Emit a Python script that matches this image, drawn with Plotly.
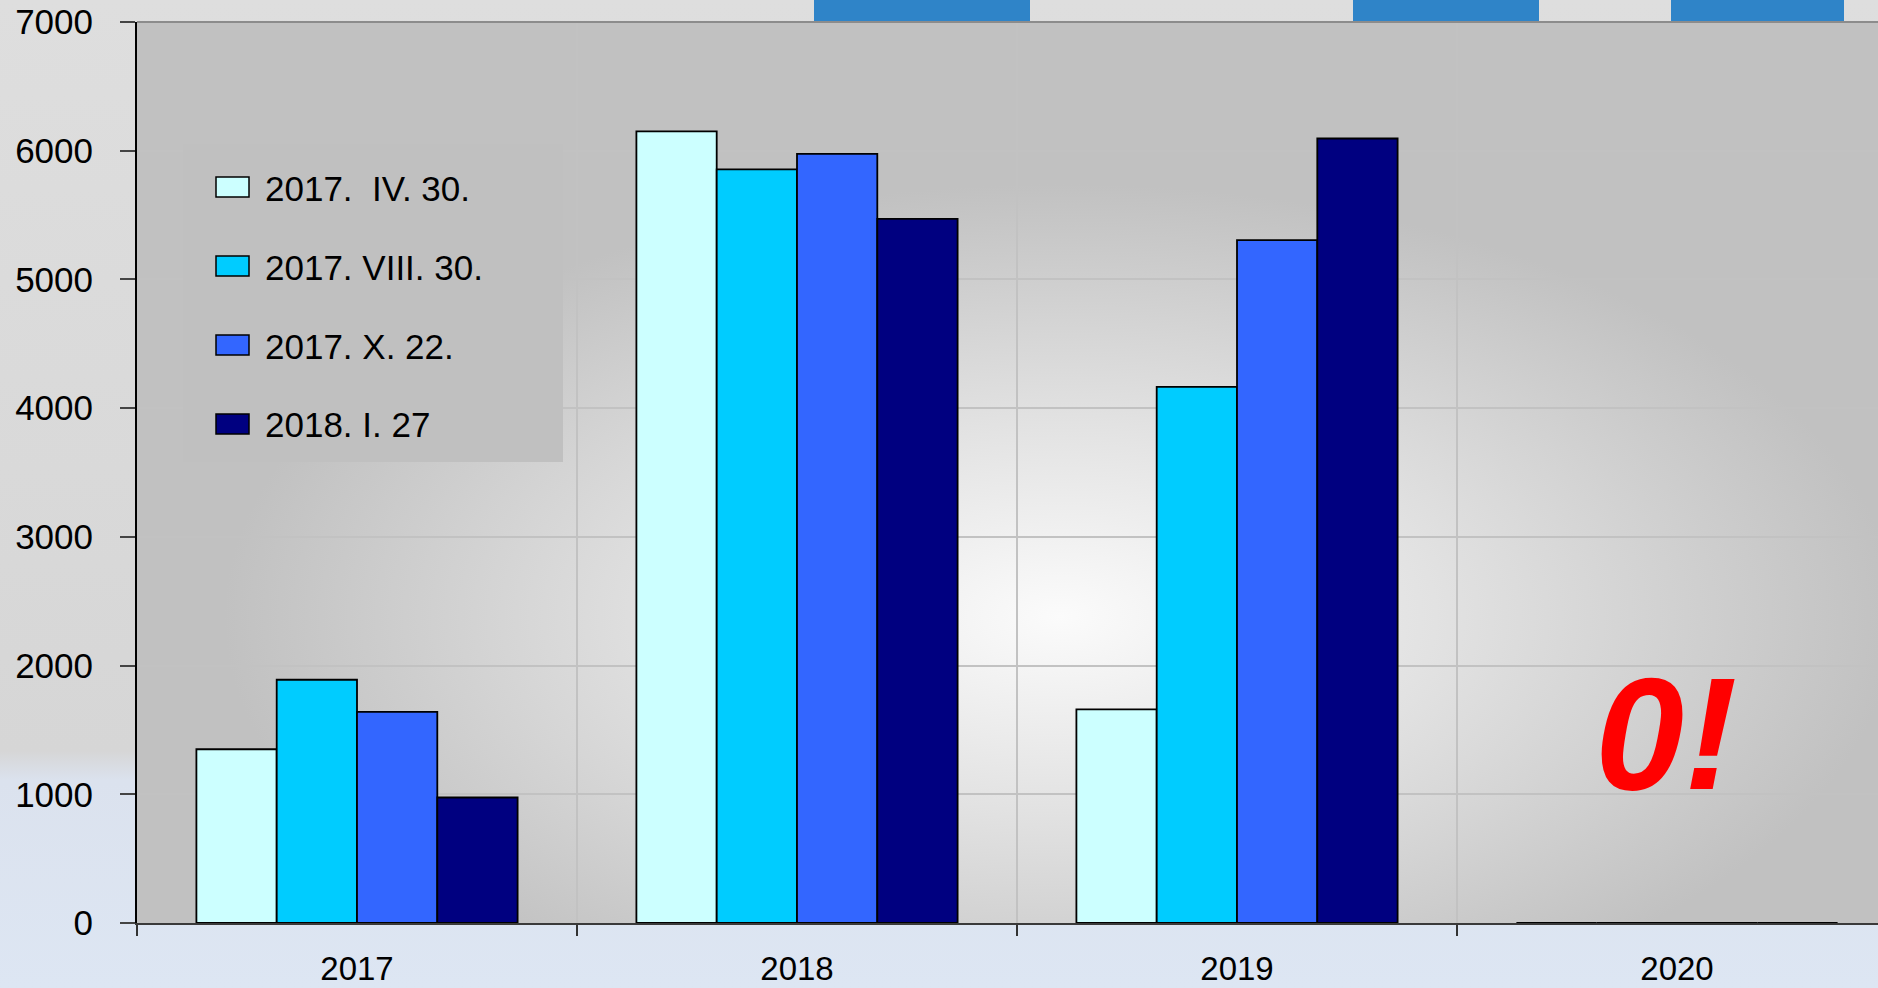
import base64
import plotly.graph_objects as go

# ---------------- data ----------------
years = ["2017", "2018", "2019", "2020"]
series_names = ["2017.\u00a0 IV. 30.", "2017. VIII. 30.", "2017. X. 22.", "2018. I. 27"]
s_2017_apr30 = [1350, 6150, 1660, 0]
s_2017_aug30 = [1890, 5855, 4165, 0]
s_2017_oct22 = [1640, 5975, 5305, 0]
s_2018_jan27 = [975, 5470, 6095, 0]
series_colors = ["#CCFFFF", "#00CCFF", "#3366FF", "#000080"]
y_tick_values = [0, 1000, 2000, 3000, 4000, 5000, 6000, 7000]
note_text = "0!"

series_values = [s_2017_apr30, s_2017_aug30, s_2017_oct22, s_2018_jan27]

# ---------------- geometry (pixels) ----------------
W, H = 1878, 988
ML, MR, MT, MB = 137, 0, 22, 65
PW, PH = W - ML - MR, H - MT - MB
FONT = "Liberation Sans, Arial, sans-serif"


def px_x(x):
    return (x - ML) / PW


def px_y(y):
    return (H - MB - y) / PH


def svg_uri(svg):
    return "data:image/svg+xml;base64," + base64.b64encode(svg.encode()).decode()


paper_svg = (
    '<svg xmlns="http://www.w3.org/2000/svg" width="100" height="100" viewBox="0 0 100 100" '
    'preserveAspectRatio="none"><defs><linearGradient id="g" x1="0" y1="0" x2="0" y2="1">'
    '<stop offset="0" stop-color="#dedede"/><stop offset="0.76" stop-color="#d6d6d6"/>'
    '<stop offset="0.79" stop-color="#dbe2ee"/><stop offset="1" stop-color="#dde6f3"/>'
    '</linearGradient></defs><rect width="100" height="100" fill="url(#g)"/></svg>'
)
plot_svg = (
    '<svg xmlns="http://www.w3.org/2000/svg" width="100" height="100" viewBox="0 0 100 100" '
    'preserveAspectRatio="none"><defs><radialGradient id="r" cx="0.53" cy="0.66" r="0.48">'
    '<stop offset="0" stop-color="#fbfbfb"/><stop offset="0.45" stop-color="#e2e2e2"/>'
    '<stop offset="1" stop-color="#c1c1c1"/></radialGradient></defs>'
    '<rect width="100" height="100" fill="url(#r)"/></svg>'
)

fig = go.Figure()
for name, vals, col in zip(series_names, series_values, series_colors):
    fig.add_trace(
        go.Bar(
            x=years,
            y=vals,
            name=name,
            marker=dict(color=col, line=dict(color="#000000", width=1.8)),
            showlegend=False,
        )
    )

shapes = []
# blue background patches in the top strip
for x0, x1 in [(814, 1030), (1353, 1539), (1671, 1844)]:
    shapes.append(dict(type="rect", xref="paper", yref="paper", x0=px_x(x0), x1=px_x(x1),
                       y0=px_y(22), y1=px_y(0), fillcolor="#2f84c8", line=dict(width=0),
                       layer="below"))
# top border
shapes.append(dict(type="line", xref="paper", yref="paper", x0=0, x1=1, y0=1, y1=1,
                   line=dict(color="#8c8c8c", width=2)))
# legend box
shapes.append(dict(type="rect", xref="paper", yref="paper", x0=px_x(183), x1=px_x(563),
                   y0=px_y(462), y1=px_y(144), fillcolor="#c0c0c0", line=dict(width=0)))
annotations = []
item_y = [187, 266, 345, 424]
for name, col, yc in zip(series_names, series_colors, item_y):
    shapes.append(dict(type="rect", xref="paper", yref="paper", x0=px_x(216), x1=px_x(249),
                       y0=px_y(yc + 10), y1=px_y(yc - 10), fillcolor=col,
                       line=dict(color="#000000", width=1.5)))
    annotations.append(dict(xref="paper", yref="paper", x=px_x(263), y=px_y(yc + 1), text=name,
                            showarrow=False, xanchor="left", yanchor="middle",
                            font=dict(family=FONT, size=35, color="#000000")))

annotations.append(dict(xref="paper", yref="paper", x=px_x(1666), y=px_y(733), text=note_text,
                        showarrow=False, xanchor="center", yanchor="middle",
                        font=dict(family=FONT, size=160, color="#ff0000", weight="bold",
                                  style="italic")))

fig.update_layout(
    width=W,
    height=H,
    margin=dict(l=ML, r=MR, t=MT, b=MB, pad=0, autoexpand=False),
    paper_bgcolor="#d9dde4",
    plot_bgcolor="rgba(0,0,0,0)",
    barmode="group",
    bargap=0.27,
    bargroupgap=0,
    showlegend=False,
    shapes=shapes,
    annotations=annotations,
    images=[
        dict(source=svg_uri(paper_svg), xref="paper", yref="paper", x=-ML / PW, y=1 + MT / PH,
             sizex=W / PW, sizey=H / PH, sizing="stretch", layer="below", xanchor="left",
             yanchor="top"),
        dict(source=svg_uri(plot_svg), xref="paper", yref="paper", x=0, y=1, sizex=1, sizey=1,
             sizing="stretch", layer="below", xanchor="left", yanchor="top"),
    ],
    xaxis=dict(
        type="category",
        categoryorder="array",
        categoryarray=years,
        range=[-0.5, -0.5 + PW / 440.0],
        tickson="boundaries",
        ticks="outside",
        ticklen=11,
        tickwidth=1.5,
        tickcolor="#333333",
        showgrid=True,
        gridcolor="#c2c2c2",
        gridwidth=1.5,
        showline=True,
        linecolor="#3a3a3a",
        linewidth=2,
        tickfont=dict(family=FONT, size=33, color="#000000"),
        ticklabelstandoff=15,
        automargin=False,
        fixedrange=True,
    ),
    yaxis=dict(
        range=[0, 7000],
        tickmode="array",
        tickvals=y_tick_values,
        ticks="outside",
        ticklen=15,
        tickwidth=1.5,
        tickcolor="#444444",
        showgrid=True,
        gridcolor="#c2c2c2",
        gridwidth=1.5,
        zeroline=False,
        showline=True,
        linecolor="#000000",
        linewidth=2,
        tickfont=dict(family=FONT, size=35, color="#000000"),
        ticklabelstandoff=20,
        automargin=False,
        fixedrange=True,
    ),
)

fig.write_html("out.html", config={"displayModeBar": False},
               post_script="document.body.style.margin='0';")
